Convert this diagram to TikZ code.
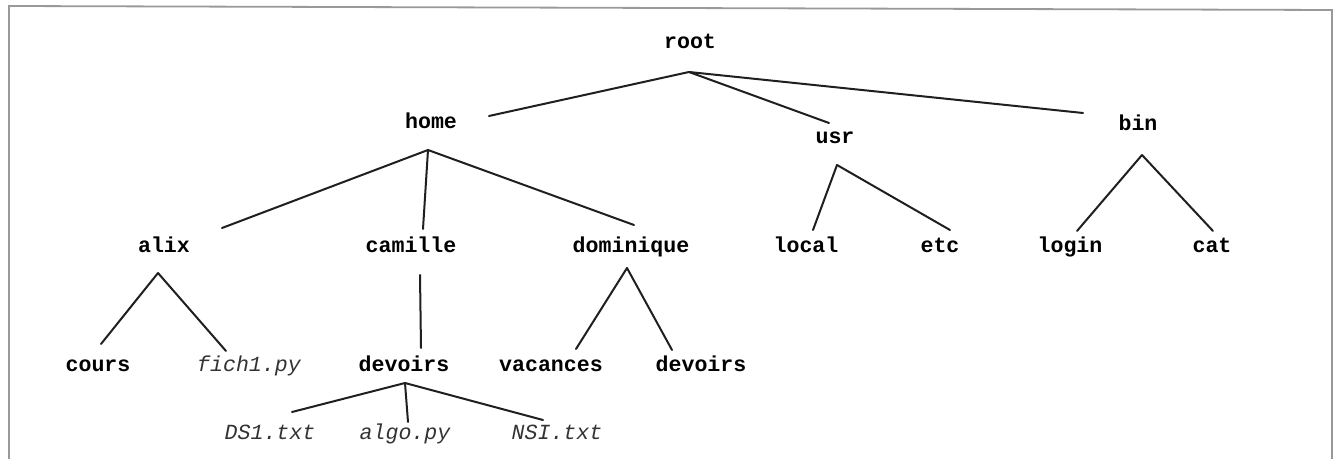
\documentclass[tikz,border=0pt]{standalone}
\usepackage{fontspec}
\setmonofont{Liberation Mono}
\begin{document}
\begin{tikzpicture}[x=0.5pt,y=-0.5pt,
  dir/.style={inner sep=0pt, anchor=base, font=\ttfamily\bfseries\fontsize{10.8}{12}\selectfont, text=black},
  file/.style={inner sep=0pt, anchor=base, font=\ttfamily\itshape\fontsize{10.8}{12}\selectfont, text=black!80},
  edge/.style={draw=black!88, line width=1pt, line cap=round},
  frame/.style={draw=black!40, line width=0.9pt}]
\useasboundingbox (0,0) rectangle (1339,459);
\clip (0,0) rectangle (1339,459);
% frame (open at bottom)
\coordinate (fbl) at (9,470);
\coordinate (ftl) at (9,6);
\coordinate (ftr) at (1332,10);
\coordinate (fbr) at (1332,470);
\draw[frame] (fbl) -- (ftl) -- (ftr) -- (fbr);

% nodes (positions are baselines)
\node[dir] (root) at (690,49) {root};
\node[dir] (home) at (431,129) {home};
\node[dir] (usr) at (835,144) {usr};
\node[dir] (bin) at (1138,131) {bin};
\node[dir] (alix) at (164,253) {alix};
\node[dir] (camille) at (411,253) {camille};
\node[dir] (dominique) at (631,253) {dominique};
\node[dir] (local) at (806,253) {local};
\node[dir] (etc) at (940,253) {etc};
\node[dir] (login) at (1070,253) {login};
\node[dir] (cat) at (1212,253) {cat};
\node[dir] (cours) at (98,372) {cours};
\node[file] (fich) at (249,372) {fich1.py};
\node[dir] (devoirsA) at (404,372) {devoirs};
\node[dir] (vacances) at (551,372) {vacances};
\node[dir] (devoirsB) at (701,372) {devoirs};
\node[file] (ds) at (270,440) {DS1.txt};
\node[file] (algo) at (405,440) {algo.py};
\node[file] (nsi) at (557,440) {NSI.txt};

% connector ends
\coordinate (root-s) at (689,72);
\coordinate (home-n) at (489,116);
\coordinate (usr-n) at (829,123);
\coordinate (bin-n) at (1083,113);
\coordinate (home-s) at (428,150);
\coordinate (alix-n) at (222,228);
\coordinate (camille-n) at (423,229);
\coordinate (dominique-n) at (634,225);
\coordinate (usr-s) at (837,165);
\coordinate (local-n) at (813,230);
\coordinate (etc-n) at (950,230);
\coordinate (bin-s) at (1142,155);
\coordinate (login-n) at (1077,231);
\coordinate (cat-n) at (1213,231);
\coordinate (alix-s) at (158,273);
\coordinate (cours-n) at (101,344);
\coordinate (fich-n) at (226,351);
\coordinate (camille-s) at (420,275);
\coordinate (devoirsA-n) at (421,348);
\coordinate (dominique-s) at (627,268);
\coordinate (vacances-n) at (576,349);
\coordinate (devoirsB-n) at (672,350);
\coordinate (devoirsA-s) at (405,383);
\coordinate (ds-n) at (292,412);
\coordinate (algo-n) at (408,422);
\coordinate (nsi-n) at (543,420);

% connectors
\draw[edge] (root-s) -- (home-n);
\draw[edge] (root-s) -- (usr-n);
\draw[edge] (root-s) -- (bin-n);
\draw[edge] (home-s) -- (alix-n);
\draw[edge] (home-s) -- (camille-n);
\draw[edge] (home-s) -- (dominique-n);
\draw[edge] (usr-s) -- (local-n);
\draw[edge] (usr-s) -- (etc-n);
\draw[edge] (bin-s) -- (login-n);
\draw[edge] (bin-s) -- (cat-n);
\draw[edge] (alix-s) -- (cours-n);
\draw[edge] (alix-s) -- (fich-n);
\draw[edge] (camille-s) -- (devoirsA-n);
\draw[edge] (dominique-s) -- (vacances-n);
\draw[edge] (dominique-s) -- (devoirsB-n);
\draw[edge] (devoirsA-s) -- (ds-n);
\draw[edge] (devoirsA-s) -- (algo-n);
\draw[edge] (devoirsA-s) -- (nsi-n);
\end{tikzpicture}
\end{document}
